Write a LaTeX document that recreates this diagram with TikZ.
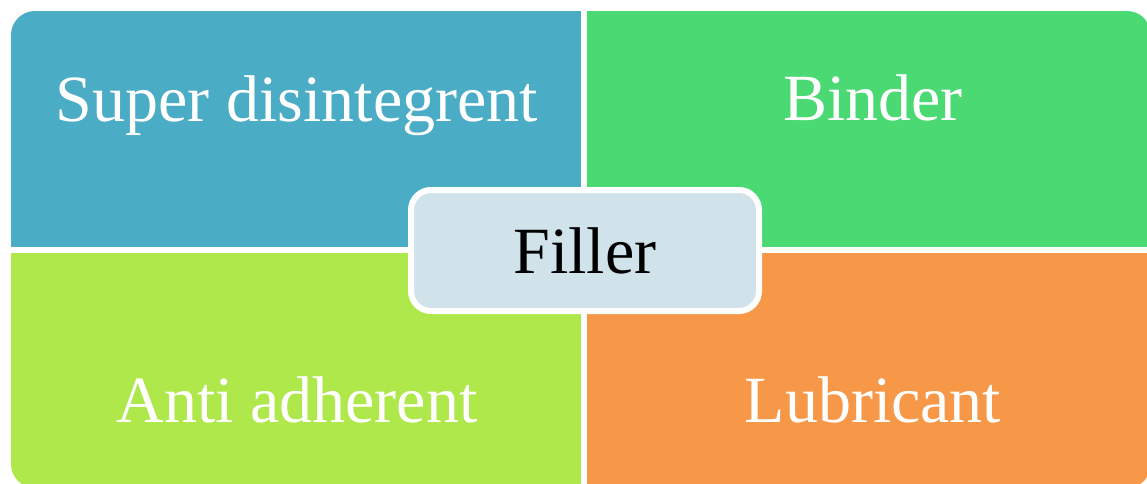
\documentclass[tikz,border=0pt]{standalone}
\usepackage{fontspec}
\setmainfont{Liberation Serif}
\definecolor{qblue}{HTML}{4BACC6}
\definecolor{qgreen}{HTML}{4AD973}
\definecolor{qlime}{HTML}{AEE84A}
\definecolor{qorange}{HTML}{F79748}
\definecolor{hubfill}{HTML}{D0E3EA}
\tikzset{
  quadtext/.style={anchor=base, text=white, inner sep=0pt, font=\fontsize{66}{70}\selectfont},
  hubbox/.style={draw=white, line width=6pt, fill=hubfill, rounded corners=20pt,
    minimum width=348pt, minimum height=121pt, inner sep=0pt,
    font=\fontsize{66}{70}\selectfont, text=black},
}
\begin{document}
\begin{tikzpicture}[x=1pt, y=-1pt]
  \useasboundingbox (0,0) rectangle (1147,483);
  \clip (0,0) rectangle (1147,483);
  % four quadrants sharing one rounded outline
  \begin{scope}
    \clip[rounded corners=24pt] (11,11) rectangle (1151,488);
    \fill[qblue]   (11,11)   rectangle (581,247);
    \fill[qgreen]  (587,11)  rectangle (1151,247);
    \fill[qlime]   (11,253)  rectangle (581,488);
    \fill[qorange] (587,253) rectangle (1151,488);
  \end{scope}
  \node[quadtext] (sd)   at (297,121) {Super disintegrent};
  \node[quadtext] (bind) at (873,120) {Binder};
  \node[quadtext] (anti) at (297,422) {Anti adherent};
  \node[quadtext] (lub)  at (873,422) {Lubricant};
  % central hub
  \node[hubbox] (hub) at (585,250.5) {Filler};
\end{tikzpicture}
\end{document}
